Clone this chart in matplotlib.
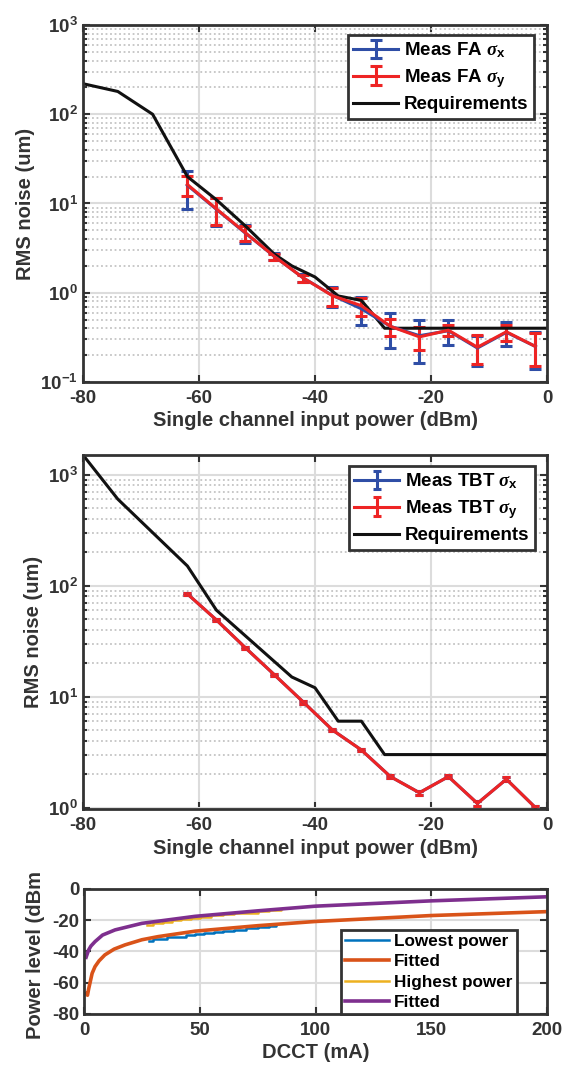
import matplotlib
matplotlib.use("Agg")
import matplotlib.pyplot as plt
from matplotlib.transforms import Bbox, TransformedBbox

plt.rcParams['font.family'] = ['Liberation Sans', 'DejaVu Sans']
plt.rcParams['font.weight'] = 'bold'
plt.rcParams['axes.labelweight'] = 'bold'
plt.rcParams['axes.unicode_minus'] = False
plt.rcParams['mathtext.fontset'] = 'custom'
plt.rcParams['mathtext.rm'] = 'Liberation Sans:bold'
plt.rcParams['mathtext.bf'] = 'Liberation Sans:bold'
plt.rcParams['mathtext.it'] = 'Liberation Serif:italic'

# ---- panel 1: FA data ----
fa_x = [-62, -57, -52, -47, -42, -37, -32, -27, -22, -17, -12, -7, -2]
fa_sx = [16.0, 8.6, 4.65, 2.55, 1.46, 0.935, 0.66, 0.42, 0.33, 0.375, 0.24, 0.36, 0.25]
fa_sx_err = [7.4, 3.0, 1.05, 0.22, 0.15, 0.235, 0.23, 0.18, 0.165, 0.115, 0.09, 0.11, 0.11]
fa_sy = [16.3, 8.7, 4.7, 2.55, 1.46, 0.925, 0.715, 0.42, 0.32, 0.38, 0.245, 0.365, 0.25]
fa_sy_err = [4.2, 2.9, 0.9, 0.2, 0.14, 0.215, 0.165, 0.09, 0.09, 0.05, 0.087, 0.075, 0.1]
fa_req_x = [-80, -74, -68, -62, -57, -52, -47, -44, -40, -36, -32, -28, 0]
fa_req_y = [220, 180, 100, 20, 11, 5.6, 2.7, 2.0, 1.5, 0.92, 0.82, 0.4, 0.4]

# ---- panel 2: TBT data ----
tbt_x = [-62, -57, -52, -47, -42, -37, -32, -27, -22, -17, -12, -7, -2]
tbt_sx = [84, 49, 27.5, 15.7, 8.9, 5.0, 3.3, 1.9, 1.36, 1.9, 1.09, 1.8, 1.0]
tbt_sx_err = [2.0, 1.2, 0.7, 0.4, 0.25, 0.15, 0.1, 0.06, 0.05, 0.07, 0.05, 0.07, 0.04]
tbt_sy = [84, 49, 27.5, 15.7, 8.9, 5.0, 3.3, 1.9, 1.36, 1.9, 1.09, 1.8, 1.0]
tbt_sy_err = [2.0, 1.2, 0.7, 0.4, 0.25, 0.15, 0.1, 0.06, 0.05, 0.07, 0.05, 0.07, 0.04]
tbt_req_x = [-80, -74, -68, -62, -57, -44, -40, -36, -32, -28, 0]
tbt_req_y = [1500, 600, 300, 150, 60, 15, 12, 6, 6, 3, 3]

# ---- panel 3: power vs DCCT ----
low_x = [28, 30, 33, 36, 40, 44, 48, 52, 56, 60, 65, 70, 75, 80, 83]
low_y = [-33.5, -32.2, -32.0, -31.0, -30.6, -29.4, -29.1, -28.3, -27.7, -26.9, -26.1, -25.2, -24.6, -23.4, -23.1]
low_fit_x = [1.0, 1.5, 2.0, 2.6, 3.5, 4.75, 6.5, 9, 13, 17.7, 25, 32, 48, 75, 100, 150, 200]
low_fit_y = [-67, -68, -64, -60, -54, -49.7, -46, -42.2, -38.5, -35.8, -32.5, -30.5, -27.0, -23.5, -20.8, -17.0, -14.5]
high_x = [27, 30, 34, 38, 42, 46, 50, 55, 60, 65, 70, 75, 80, 85]
high_y = [-23.2, -21.8, -21.2, -19.8, -19.2, -18.3, -18.1, -16.8, -16.2, -15.3, -15.1, -14.3, -13.7, -12.8]
high_fit_x = [0.9, 2, 3, 4.75, 8, 13.4, 25, 48, 75, 100, 150, 200]
high_fit_y = [-43.7, -39, -36.5, -33.7, -29.5, -26.2, -22, -17.5, -14, -11, -7.6, -5]

BLUE = '#2f4ea6'
RED = '#ee2424'
DARK = '#333333'

fig = plt.figure(figsize=(5.62, 10.69), dpi=100)
ax1 = fig.add_axes([0.1477, 0.6427, 0.8256, 0.3339])
ax2 = fig.add_axes([0.1477, 0.2432, 0.8256, 0.3312])
ax3 = fig.add_axes([0.1495, 0.0515, 0.8238, 0.1169])


def style(ax, logy=True):
    for s in ax.spines.values():
        s.set_color(DARK)
        s.set_linewidth(2)
    ax.tick_params(which='both', direction='in', top=True, right=True,
                   colors=DARK, labelsize=13.5, width=1.5)
    ax.tick_params(axis='x', pad=6)
    ax.tick_params(which='major', length=5)
    ax.tick_params(which='minor', length=3)
    ax.grid(True, which='major', color='#dcdcdc', lw=1.5)
    if logy:
        ax.grid(True, which='minor', axis='y', color='#c4c4c4', lw=1.3, ls=(0, (1, 1.5)))
    ax.set_axisbelow(True)


def add_legend(ax, fs=13.5, **kw):
    h, l = ax.get_legend_handles_labels()
    # errorbar entries come after plain lines; put them back in plotting order
    order = [1, 2, 0] if len(h) == 3 else list(range(len(h)))
    leg = ax.legend([h[i] for i in order], [l[i] for i in order], borderaxespad=0,
                    fontsize=fs, fancybox=False, framealpha=1, edgecolor=DARK,
                    handletextpad=0.3, **kw)
    leg.get_frame().set_linewidth(2)
    return leg


# panel 1
ax1.errorbar(fa_x, fa_sx, yerr=fa_sx_err, color=BLUE, lw=2.2, capsize=4, capthick=2.2,
             label=r'Meas FA $\sigma_{\mathrm{x}}$')
ax1.errorbar(fa_x, fa_sy, yerr=fa_sy_err, color=RED, lw=2.2, capsize=4, capthick=2.2,
             label=r'Meas FA $\sigma_{\mathrm{y}}$')
ax1.plot(fa_req_x, fa_req_y, color='#111111', lw=2.2, label='Requirements')
ax1.set_yscale('log')
ax1.set_xlim(-80, 0)
ax1.set_ylim(0.1, 1000)
ax1.set_xticks([-80, -60, -40, -20, 0])
style(ax1)
ax1.set_xlabel('Single channel input power (dBm)', fontsize=14.5, color=DARK, labelpad=3)
ax1.set_ylabel('RMS noise (um)', fontsize=14.5, color=DARK, labelpad=4)
add_legend(ax1, loc='upper right', bbox_to_anchor=(1 - 13 / 464, 1 - 10 / 357),
           handlelength=2.4, labelspacing=0.35, borderpad=0.3)

# panel 2
ax2.errorbar(tbt_x, tbt_sx, yerr=tbt_sx_err, color=BLUE, lw=2.2, capsize=3, capthick=2.2,
             label=r'Meas TBT $\sigma_{\mathrm{x}}$')
ax2.errorbar(tbt_x, tbt_sy, yerr=tbt_sy_err, color=RED, lw=2.2, capsize=3, capthick=2.2,
             label=r'Meas TBT $\sigma_{\mathrm{y}}$')
ax2.plot(tbt_req_x, tbt_req_y, color='#111111', lw=2.2, label='Requirements')
ax2.set_yscale('log')
ax2.set_xlim(-80, 0)
ax2.set_ylim(0.97, 1500)
ax2.set_xticks([-80, -60, -40, -20, 0])
style(ax2)
ax2.set_xlabel('Single channel input power (dBm)', fontsize=14.5, color=DARK, labelpad=3)
ax2.set_ylabel('RMS noise (um)', fontsize=14.5, color=DARK, labelpad=4)
add_legend(ax2, loc='upper right', bbox_to_anchor=(1 - 12 / 464, 1 - 11 / 353),
           handlelength=2.4, labelspacing=0.35, borderpad=0.3)

# panel 3
ax3.plot(low_x, low_y, color='#0072BD', lw=1.8, drawstyle='steps-post', label='Lowest power')
ax3.plot(low_fit_x, low_fit_y, color='#D95319', lw=2.6, label='Fitted')
ax3.plot(high_x, high_y, color='#EDB120', lw=1.8, drawstyle='steps-post', label='Highest power')
ax3.plot(high_fit_x, high_fit_y, color='#7E2F8E', lw=2.6, label='Fitted')
ax3.set_xlim(0, 200)
ax3.set_ylim(-80, 0)
ax3.set_yticks([-80, -60, -40, -20, 0])
ax3.set_xticks([0, 50, 100, 150, 200])
style(ax3, logy=False)
ax3.set_xlabel('DCCT (mA)', fontsize=14.5, color=DARK, labelpad=3)
yl = ax3.set_ylabel('Power level (dBm)', fontsize=14.5, color=DARK, labelpad=5)
# label runs past the top of the panel; the reference cuts it off there
yl.set_clip_box(TransformedBbox(Bbox([[0, 0], [1, 1 - 873 / 1069]]), fig.transFigure))
yl.set_clip_on(True)
add_legend(ax3, fs=12.3, loc='lower right', bbox_to_anchor=(433 / 463, 0.0),
           handlelength=2.6, labelspacing=0.3, borderpad=0.25)

fig.savefig('out.png', dpi=100)
